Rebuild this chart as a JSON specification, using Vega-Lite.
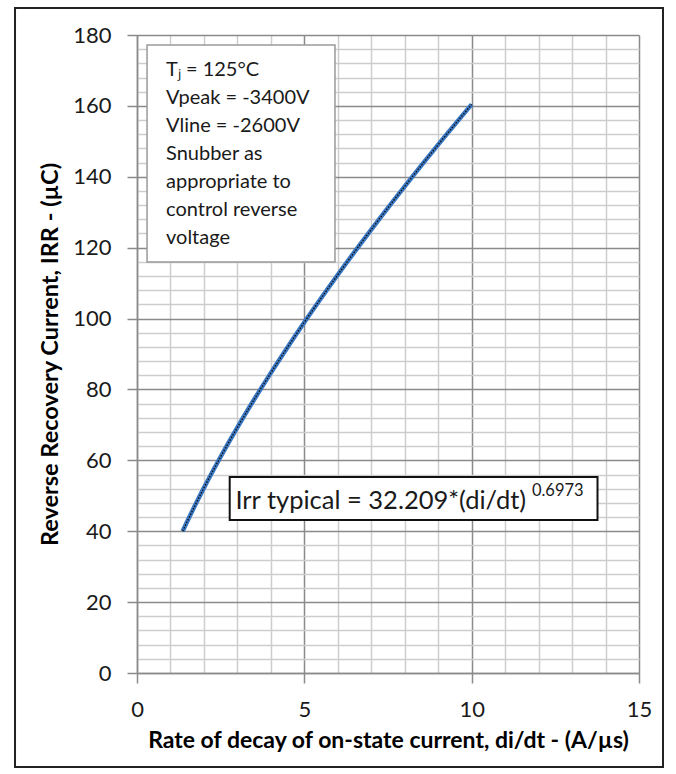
{
  "$schema": "https://vega.github.io/schema/vega-lite/v6.json",
  "width": 502,
  "height": 638,
  "autosize": {"type": "none"},
  "padding": {"left": 137, "top": 35, "right": 37, "bottom": 101},
  "background": "white",
  "config": {
    "view": {"stroke": null},
    "font": "Lato",
    "axis": {
      "grid": true,
      "gridWidth": 1.5,
      "tickColor": "#8a8a8a",
      "tickSize": 10,
      "tickWidth": 1.5,
      "domainColor": "#8a8a8a",
      "domainWidth": 1.5,
      "labelFontSize": 22,
      "labelColor": "#1a1a1a",
      "labelFlush": false,
      "labelOverlap": false,
      "titleFontWeight": "bold",
      "titleColor": "#000000"
    },
    "axisX": {"labelPadding": 16, "titlePadding": 9, "titleFontSize": 23},
    "axisY": {"labelPadding": 16, "titlePadding": 10, "titleFontSize": 23.5}
  },
  "datasets": {
    "curve": [
      {"didt": 1.364, "irr": 40.0},
      {"didt": 1.5, "irr": 42.73},
      {"didt": 1.75, "irr": 47.58},
      {"didt": 2.0, "irr": 52.23},
      {"didt": 2.5, "irr": 61.02},
      {"didt": 3.0, "irr": 69.29},
      {"didt": 3.5, "irr": 77.15},
      {"didt": 4.0, "irr": 84.68},
      {"didt": 4.5, "irr": 91.93},
      {"didt": 5.0, "irr": 98.94},
      {"didt": 6.0, "irr": 112.36},
      {"didt": 7.0, "irr": 125.11},
      {"didt": 8.0, "irr": 137.31},
      {"didt": 9.0, "irr": 149.07},
      {"didt": 10.0, "irr": 160.42}
    ],
    "note": [
      {"text": "Tⱼ = 125°C\nVpeak = -3400V\nVline = -2600V\nSnubber as\nappropriate to\ncontrol reverse\nvoltage"}
    ],
    "eq": [
      {"main": "Irr typical = 32.209*(di/dt)", "exp": "0.6973"}
    ]
  },
  "layer": [
    {
      "data": {"name": "curve"},
      "mark": {"type": "line", "color": "#3b78c4", "strokeWidth": 4.5, "interpolate": "monotone"},
      "encoding": {
        "x": {
          "field": "didt", "type": "quantitative",
          "scale": {"domain": [0, 15], "nice": false},
          "title": "Rate of decay of on-state current, di/dt - (A/µs)",
          "axis": {
            "values": [0,1,2,3,4,5,6,7,8,9,10,11,12,13,14,15],
            "labelExpr": "datum.value % 5 === 0 ? datum.label : ''",
            "gridColor": {"condition": {"test": "datum.value % 5 === 0", "value": "#8a8a8a"}, "value": "#cdcdcd"},
            "tickOpacity": {"condition": {"test": "datum.value % 5 === 0", "value": 1}, "value": 0}
          }
        },
        "y": {
          "field": "irr", "type": "quantitative",
          "scale": {"domain": [0, 180], "nice": false},
          "title": "Reverse Recovery Current, IRR - (µC)",
          "axis": {
            "values": [0,4,8,12,16,20,24,28,32,36,40,44,48,52,56,60,64,68,72,76,80,84,88,92,96,100,104,108,112,116,120,124,128,132,136,140,144,148,152,156,160,164,168,172,176,180],
            "labelExpr": "datum.value % 20 === 0 ? datum.label : ''",
            "gridColor": {"condition": {"test": "datum.value % 20 === 0", "value": "#8a8a8a"}, "value": "#cdcdcd"},
            "tickOpacity": {"condition": {"test": "datum.value % 20 === 0", "value": 1}, "value": 0}
          }
        }
      }
    },
    {
      "data": {"name": "curve"},
      "mark": {"type": "line", "color": "#111111", "strokeWidth": 1.4, "strokeDash": [1.5, 1.5], "interpolate": "monotone"},
      "encoding": {
        "x": {"field": "didt", "type": "quantitative", "title": "Rate of decay of on-state current, di/dt - (A/µs)",
          "axis": {"values": [0,1,2,3,4,5,6,7,8,9,10,11,12,13,14,15]}},
        "y": {"field": "irr", "type": "quantitative", "title": "Reverse Recovery Current, IRR - (µC)",
          "axis": {"values": [0,4,8,12,16,20,24,28,32,36,40,44,48,52,56,60,64,68,72,76,80,84,88,92,96,100,104,108,112,116,120,124,128,132,136,140,144,148,152,156,160,164,168,172,176,180]}}
      }
    },
    {
      "data": {"name": "note"},
      "mark": {"type": "rect", "fill": "white", "stroke": "#9a9a9a", "strokeWidth": 1.5},
      "encoding": {
        "x": {"datum": 0.3, "type": "quantitative", "title": "Rate of decay of on-state current, di/dt - (A/µs)",
          "axis": {"values": [0,1,2,3,4,5,6,7,8,9,10,11,12,13,14,15]}},
        "x2": {"datum": 5.916},
        "y": {"datum": 177.2, "type": "quantitative", "title": "Reverse Recovery Current, IRR - (µC)",
          "axis": {"values": [0,4,8,12,16,20,24,28,32,36,40,44,48,52,56,60,64,68,72,76,80,84,88,92,96,100,104,108,112,116,120,124,128,132,136,140,144,148,152,156,160,164,168,172,176,180]}},
        "y2": {"datum": 115.96}
      }
    },
    {
      "data": {"name": "note"},
      "mark": {"type": "text", "align": "left", "baseline": "top", "lineBreak": "\n", "lineHeight": 28, "fontSize": 20, "color": "#1a1a1a", "font": "Lato"},
      "encoding": {
        "x": {"datum": 0.867, "type": "quantitative", "title": "Rate of decay of on-state current, di/dt - (A/µs)",
          "axis": {"values": [0,1,2,3,4,5,6,7,8,9,10,11,12,13,14,15]}},
        "y": {"datum": 173.0, "type": "quantitative", "title": "Reverse Recovery Current, IRR - (µC)",
          "axis": {"values": [0,4,8,12,16,20,24,28,32,36,40,44,48,52,56,60,64,68,72,76,80,84,88,92,96,100,104,108,112,116,120,124,128,132,136,140,144,148,152,156,160,164,168,172,176,180]}},
        "text": {"field": "text"}
      }
    },
    {
      "data": {"name": "eq"},
      "mark": {"type": "rect", "fill": "white", "stroke": "#111111", "strokeWidth": 2},
      "encoding": {
        "x": {"datum": 2.77, "type": "quantitative", "title": "Rate of decay of on-state current, di/dt - (A/µs)",
          "axis": {"values": [0,1,2,3,4,5,6,7,8,9,10,11,12,13,14,15]}},
        "x2": {"datum": 13.76},
        "y": {"datum": 55.3, "type": "quantitative", "title": "Reverse Recovery Current, IRR - (µC)",
          "axis": {"values": [0,4,8,12,16,20,24,28,32,36,40,44,48,52,56,60,64,68,72,76,80,84,88,92,96,100,104,108,112,116,120,124,128,132,136,140,144,148,152,156,160,164,168,172,176,180]}},
        "y2": {"datum": 43.2}
      }
    },
    {
      "data": {"name": "eq"},
      "mark": {"type": "text", "align": "left", "baseline": "middle", "fontSize": 25.5, "color": "#1a1a1a", "font": "Lato"},
      "encoding": {
        "x": {"datum": 2.94, "type": "quantitative", "title": "Rate of decay of on-state current, di/dt - (A/µs)",
          "axis": {"values": [0,1,2,3,4,5,6,7,8,9,10,11,12,13,14,15]}},
        "y": {"datum": 48.6, "type": "quantitative", "title": "Reverse Recovery Current, IRR - (µC)",
          "axis": {"values": [0,4,8,12,16,20,24,28,32,36,40,44,48,52,56,60,64,68,72,76,80,84,88,92,96,100,104,108,112,116,120,124,128,132,136,140,144,148,152,156,160,164,168,172,176,180]}},
        "text": {"field": "main"}
      }
    },
    {
      "data": {"name": "eq"},
      "mark": {"type": "text", "align": "left", "baseline": "middle", "fontSize": 16.5, "color": "#1a1a1a", "font": "Lato"},
      "encoding": {
        "x": {"datum": 11.8, "type": "quantitative", "title": "Rate of decay of on-state current, di/dt - (A/µs)",
          "axis": {"values": [0,1,2,3,4,5,6,7,8,9,10,11,12,13,14,15]}},
        "y": {"datum": 51.3, "type": "quantitative", "title": "Reverse Recovery Current, IRR - (µC)",
          "axis": {"values": [0,4,8,12,16,20,24,28,32,36,40,44,48,52,56,60,64,68,72,76,80,84,88,92,96,100,104,108,112,116,120,124,128,132,136,140,144,148,152,156,160,164,168,172,176,180]}},
        "text": {"field": "exp"}
      }
    },
    {
      "data": {"values": [{}]},
      "mark": {"type": "rect", "fill": null, "stroke": "#222222", "strokeWidth": 2},
      "encoding": {
        "x": {"datum": -3.645, "type": "quantitative", "title": "Rate of decay of on-state current, di/dt - (A/µs)",
          "axis": {"values": [0,1,2,3,4,5,6,7,8,9,10,11,12,13,14,15]}},
        "x2": {"datum": 15.717},
        "y": {"datum": 187.6, "type": "quantitative", "title": "Reverse Recovery Current, IRR - (µC)",
          "axis": {"values": [0,4,8,12,16,20,24,28,32,36,40,44,48,52,56,60,64,68,72,76,80,84,88,92,96,100,104,108,112,116,120,124,128,132,136,140,144,148,152,156,160,164,168,172,176,180]}},
        "y2": {"datum": -26.5}
      }
    }
  ]
}
